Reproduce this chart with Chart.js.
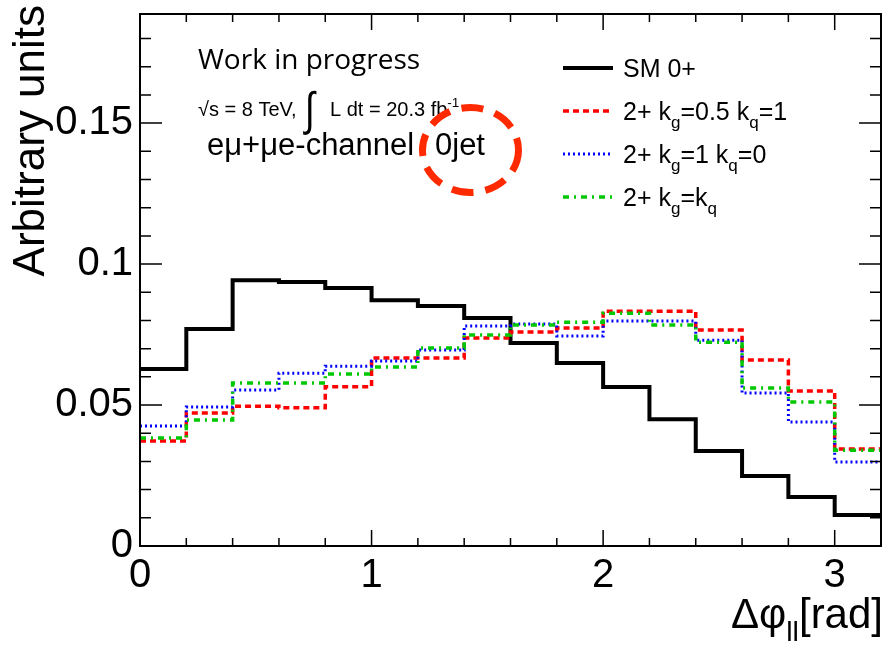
<!DOCTYPE html>
<html>
<head>
<meta charset="utf-8">
<script src="https://cdn.jsdelivr.net/npm/chart.js@4.4.1/dist/chart.umd.min.js"></script>
<style>
  html, body { margin: 0; padding: 0; background: #fff; }
</style>
</head>
<body>
<canvas id="dphi" width="884" height="646"></canvas>
<script>
// Δφ_ll bin edges (rad) and normalised bin contents
const binEdges = [0, 0.2, 0.4, 0.6, 0.8, 1.0, 1.2, 1.4, 1.6, 1.8, 2.0, 2.2, 2.4, 2.6, 2.8, 3.0, 3.2];
const sm0p     = [0.0628, 0.0770, 0.0943, 0.0936, 0.0915, 0.0872, 0.0851, 0.0809, 0.0720, 0.0649, 0.0564, 0.0450, 0.0337, 0.0248, 0.0174, 0.0110];
const kg05kq1  = [0.0372, 0.0472, 0.0496, 0.0490, 0.0565, 0.0667, 0.0667, 0.0738, 0.0759, 0.0773, 0.0833, 0.0833, 0.0766, 0.0660, 0.0550, 0.0344];
const kg1kq0   = [0.0426, 0.0493, 0.0553, 0.0613, 0.0638, 0.0656, 0.0695, 0.0780, 0.0787, 0.0745, 0.0798, 0.0798, 0.0730, 0.0543, 0.0440, 0.0298];
const kgEqKq   = [0.0383, 0.0447, 0.0578, 0.0578, 0.0610, 0.0635, 0.0702, 0.0748, 0.0784, 0.0794, 0.0826, 0.0784, 0.0723, 0.0560, 0.0511, 0.0340];

const seriesNames = ['SM 0+', '2+ k_{g}=0.5 k_{q}=1', '2+ k_{g}=1 k_{q}=0', '2+ k_{g}=k_{q}'];
const xTicks = [0, 1, 2, 3];
const yTicks = [0, 0.05, 0.1, 0.15];
const xMinorStep = 0.2;
const yMinorStep = 0.01;

const FONT = "'Liberation Sans', Arial, Helvetica, sans-serif";

// histogram -> step points: one per lower edge plus the last upper edge
function histPoints(vals) {
  const pts = vals.map((v, i) => ({ x: binEdges[i], y: v }));
  pts.push({ x: binEdges[binEdges.length - 1], y: vals[vals.length - 1] });
  return pts;
}

// tiny markup: _{..} subscript, ^{..} superscript
function parseRich(str) {
  const segs = [];
  const re = /([_^])\{([^}]*)\}/g;
  let last = 0, m;
  while ((m = re.exec(str))) {
    if (m.index > last) segs.push({ t: str.slice(last, m.index), mode: 0 });
    segs.push({ t: m[2], mode: m[1] === '_' ? -1 : 1 });
    last = re.lastIndex;
  }
  if (last < str.length) segs.push({ t: str.slice(last), mode: 0 });
  return segs;
}

function drawRich(ctx, str, x, y, size, align) {
  const segs = parseRich(str);
  const small = size * 0.68;
  let w = 0;
  segs.forEach(s => {
    ctx.font = (s.mode ? small : size) + 'px ' + FONT;
    s.w = ctx.measureText(s.t).width;
    w += s.w;
  });
  let cx = align === 'right' ? x - w : x;
  ctx.textAlign = 'left';
  segs.forEach(s => {
    ctx.font = (s.mode ? small : size) + 'px ' + FONT;
    const dy = s.mode === -1 ? size * 0.32 : s.mode === 1 ? -size * 0.45 : 0;
    ctx.fillText(s.t, cx, y + dy);
    cx += s.w;
  });
}

const frameAndLabels = {
  id: 'frameAndLabels',
  afterDatasetsDraw(chart) {
    const { ctx, chartArea: a, scales: { x, y } } = chart;
    ctx.save();
    ctx.strokeStyle = '#000';
    ctx.lineWidth = 2;
    ctx.strokeRect(a.left, a.top, a.right - a.left, a.bottom - a.top);

    ctx.lineWidth = 1.5;
    ctx.beginPath();
    for (let i = 0; i * xMinorStep <= x.max + 1e-9; i++) {
      const v = i * xMinorStep;
      const px = x.getPixelForValue(v);
      const len = xTicks.some(t => Math.abs(t - v) < 1e-6) ? 16 : 8;
      ctx.moveTo(px, a.bottom); ctx.lineTo(px, a.bottom - len);
      ctx.moveTo(px, a.top); ctx.lineTo(px, a.top + len);
    }
    for (let i = 0; i * yMinorStep <= y.max + 1e-9; i++) {
      const v = i * yMinorStep;
      const py = y.getPixelForValue(v);
      const len = yTicks.some(t => Math.abs(t - v) < 1e-6) ? 22 : 11;
      ctx.moveTo(a.left, py); ctx.lineTo(a.left + len, py);
      ctx.moveTo(a.right, py); ctx.lineTo(a.right - len, py);
    }
    ctx.stroke();
    ctx.restore();
  },
  afterDraw(chart) {
    const { ctx } = chart;
    ctx.save();
    ctx.fillStyle = '#000';
    ctx.textBaseline = 'alphabetic';

    // axis titles
    ctx.save();
    ctx.translate(44, 5);
    ctx.rotate(-Math.PI / 2);
    ctx.font = '44px ' + FONT;
    ctx.textAlign = 'right';
    ctx.fillText('Arbitrary units', 0, 0);
    ctx.restore();
    drawRich(ctx, 'Δφ_{ll}[rad]', 883, 628, 42, 'right');

    // annotation block
    ctx.font = "28px 'Comic Sans MS', 'Open Sans', sans-serif";
    ctx.textAlign = 'left';
    ctx.fillText('Work in progress', 198, 69);
    ctx.font = '20px ' + FONT;
    ctx.fillText('√s = 8 TeV,', 198, 116);
    // tall integral sign
    ctx.save();
    ctx.translate(305, 125);
    ctx.scale(1, 1.3);
    ctx.font = '36px ' + FONT;
    ctx.fillText('∫', 0, 0);
    ctx.restore();
    drawRich(ctx, 'L dt = 20.3 fb^{-1}', 330, 116, 20, 'left');
    ctx.font = '31px ' + FONT;
    ctx.fillText('eμ+μe-channel', 207, 155);
    ctx.fillText('0jet', 435, 155);

    // dashed ring around the jet bin label
    ctx.beginPath();
    ctx.ellipse(470.5, 150, 48, 42.5, 0, 0, Math.PI * 2);
    ctx.strokeStyle = '#ff2a00';
    ctx.lineWidth = 7;
    ctx.setLineDash([22, 12]);
    ctx.stroke();
    ctx.setLineDash([]);

    // legend
    const rows = [68, 111, 154, 197];
    chart.data.datasets.forEach((ds, i) => {
      const ry = rows[i];
      ctx.beginPath();
      ctx.strokeStyle = ds.borderColor;
      ctx.lineWidth = ds.borderWidth;
      ctx.setLineDash(ds.borderDash || []);
      ctx.moveTo(563, ry);
      ctx.lineTo(613, ry);
      ctx.stroke();
      ctx.setLineDash([]);
      ctx.fillStyle = '#000';
      drawRich(ctx, seriesNames[i], 623, ry + 9, 25, 'left');
    });
    ctx.restore();
  }
};

const stepStyle = { stepped: true, pointRadius: 0, fill: false, borderJoinStyle: 'miter', borderCapStyle: 'butt' };

new Chart(document.getElementById('dphi'), {
  type: 'line',
  data: {
    datasets: [
      { ...stepStyle, label: seriesNames[0], data: histPoints(sm0p), borderColor: '#000000', borderWidth: 4, order: 4 },
      { ...stepStyle, label: seriesNames[1], data: histPoints(kg05kq1), borderColor: '#ff0000', borderWidth: 3.5, borderDash: [6, 4], order: 3 },
      { ...stepStyle, label: seriesNames[2], data: histPoints(kg1kq0), borderColor: '#0000ff', borderWidth: 3, borderDash: [2, 3], order: 2 },
      { ...stepStyle, label: seriesNames[3], data: histPoints(kgEqKq), borderColor: 'rgb(0,200,0)', borderWidth: 3.5, borderDash: [6, 5, 2, 5], order: 1 }
    ]
  },
  options: {
    responsive: false,
    animation: false,
    layout: { padding: { left: 0, top: 14, right: 3, bottom: 0 } },
    plugins: { legend: { display: false }, tooltip: { enabled: false } },
    scales: {
      x: {
        type: 'linear',
        min: 0,
        max: 3.2,
        grid: { display: false, drawTicks: false },
        border: { display: false },
        afterBuildTicks: s => { s.ticks = xTicks.map(v => ({ value: v })); },
        afterFit: s => { s.height = 100; s.paddingLeft = 0; s.paddingRight = 0; },
        ticks: {
          autoSkip: false, maxRotation: 0, padding: 6, color: '#000',
          font: { family: FONT, size: 40 },
          callback: v => String(v)
        }
      },
      y: {
        min: 0,
        max: 0.1887,
        grid: { display: false, drawTicks: false },
        border: { display: false },
        afterBuildTicks: s => { s.ticks = yTicks.map(v => ({ value: v })); },
        afterFit: s => { s.width = 140; s.paddingTop = 0; s.paddingBottom = 0; },
        ticks: {
          autoSkip: false, padding: 7, color: '#000',
          font: { family: FONT, size: 40 },
          callback: v => String(Number(v.toFixed(2)))
        }
      }
    }
  },
  plugins: [frameAndLabels]
});
</script>
</body>
</html>
